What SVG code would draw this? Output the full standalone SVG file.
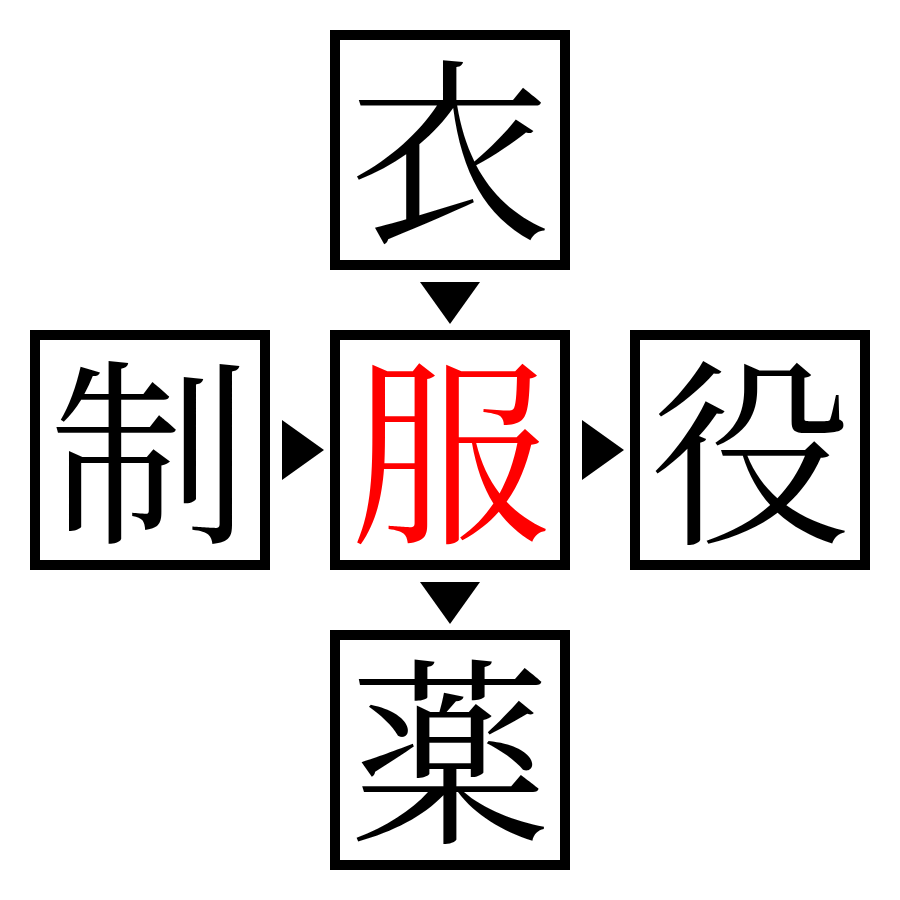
<svg xmlns="http://www.w3.org/2000/svg" width="900" height="900" viewBox="0 0 900 900">
<style>
.box{fill:#fff;stroke:#000;stroke-width:10}
.ch{font-family:"Noto Serif CJK JP","Noto Sans CJK JP","Noto Sans CJK SC",serif;font-size:200px;text-anchor:middle;dominant-baseline:central;fill:#000}
.arr{fill:#000}
</style>
<rect width="900" height="900" fill="#fff"/>
<g id="node-top"><rect class="box" x="335" y="35" width="230" height="230"/><text class="ch" x="450" y="141">衣</text></g>
<g id="node-left"><rect class="box" x="35" y="335" width="230" height="230"/><text class="ch" x="150" y="441">制</text></g>
<g id="node-center"><rect class="box" x="335" y="335" width="230" height="230"/><text class="ch" x="450" y="441" style="fill:#f00">服</text></g>
<g id="node-right"><rect class="box" x="635" y="335" width="230" height="230"/><text class="ch" x="750" y="441">役</text></g>
<g id="node-bottom"><rect class="box" x="335" y="635" width="230" height="230"/><text class="ch" x="450" y="741">薬</text></g>
<g id="connectors">
<polygon class="arr" points="420,282 480,282 450,324"/>
<polygon class="arr" points="282,420 282,480 324,450"/>
<polygon class="arr" points="582,420 582,480 624,450"/>
<polygon class="arr" points="420,582 480,582 450,624"/>
</g>
</svg>
